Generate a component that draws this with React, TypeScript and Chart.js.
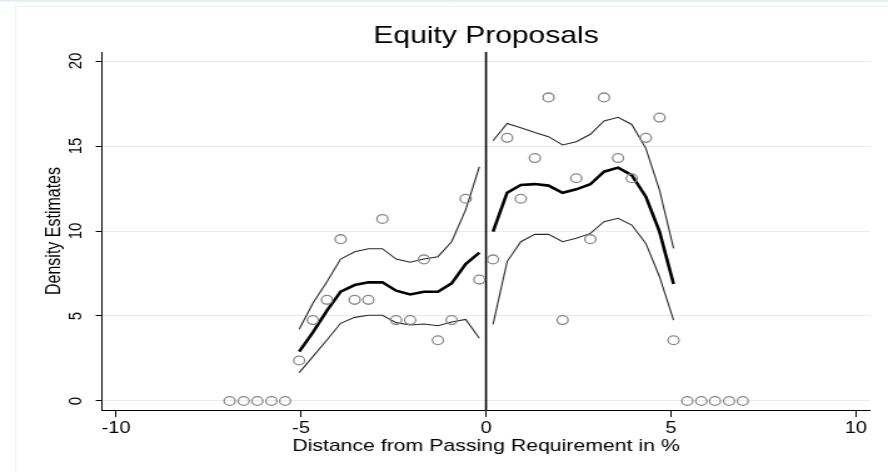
import { useEffect, useRef } from "react";
import { Chart, registerables } from "chart.js";

Chart.register(...registerables);

// ---- data ----
const chartTitle = "Equity Proposals";
const xAxisTitle = "Distance from Passing Requirement in %";
const yAxisTitle = "Density Estimates";

const xTicks = [-10, -5, 0, 5, 10];
const yTicks = [0, 5, 10, 15, 20];
const xRange = [-10.38, 10.38];
const yRange = [-0.53, 20.53];

// bin midpoints (distance from the passing requirement, %)
const leftBins = [
  -6.93, -6.55, -6.18, -5.8, -5.43, -5.05, -4.68, -4.3, -3.93, -3.55, -3.18, -2.8, -2.43, -2.05,
  -1.68, -1.3, -0.93, -0.55, -0.18,
];
const rightBins = [
  0.19, 0.57, 0.94, 1.32, 1.69, 2.07, 2.44, 2.82, 3.19, 3.57, 3.94, 4.32, 4.69, 5.07, 5.44, 5.82,
  6.19, 6.57, 6.94,
];

// density per bin
const leftDensity = [
  0, 0, 0, 0, 0, 2.38, 4.76, 5.95, 9.52, 5.95, 5.95, 10.71, 4.76, 4.76, 8.33, 3.57, 4.76, 11.9, 7.14,
];
const rightDensity = [
  8.33, 15.48, 11.9, 14.29, 17.86, 4.76, 13.1, 9.52, 17.86, 14.29, 13.1, 15.48, 16.67, 3.57, 0, 0, 0,
  0, 0,
];

// local fit with confidence band, evaluated on the non-empty bins
const leftFitX = leftBins.slice(5);
const rightFitX = rightBins.slice(0, 14);
const leftFit = [2.9, 4.04, 5.31, 6.43, 6.82, 6.98, 6.98, 6.49, 6.27, 6.43, 6.43, 6.92, 8.06, 8.73];
const leftUpper = [4.22, 5.75, 7.02, 8.35, 8.78, 8.96, 8.96, 8.35, 8.16, 8.35, 8.49, 9.37, 11.24, 13.78];
const leftLower = [1.67, 2.61, 3.59, 4.57, 4.92, 5.04, 5.04, 4.61, 4.47, 4.53, 4.43, 4.65, 4.8, 3.69];
const rightFit = [9.96, 12.25, 12.71, 12.76, 12.67, 12.25, 12.45, 12.75, 13.49, 13.73, 13.29, 12.02, 9.96, 6.88];
const rightUpper = [15.31, 16.33, 16.08, 15.8, 15.55, 15.06, 15.25, 15.69, 16.47, 16.69, 16.27, 14.86, 12.41, 8.98];
const rightLower = [4.51, 8.2, 9.37, 9.8, 9.8, 9.37, 9.57, 9.86, 10.55, 10.75, 10.35, 9.27, 7.31, 4.76];

// ---- drawing ----
const FONT = '"Liberation Sans", Arial, Helvetica, sans-serif';
const CANVAS_W = 710; // drawing width; shown stretched to the page width
const CANVAS_H = 472;
const SHOWN_W = 888;

const pairs = (xs: number[], ys: number[]) => xs.map((x, i) => ({ x, y: ys[i] }));

const lineSet = (xs: number[], ys: number[], width: number, color: string) => ({
  type: "line" as const,
  data: pairs(xs, ys),
  borderColor: color,
  borderWidth: width,
  pointRadius: 0,
  fill: false,
  tension: 0,
  order: 2,
});

const framePlugin = {
  id: "frame",
  beforeDraw(chart: Chart) {
    const { ctx, width, height } = chart;
    ctx.save();
    ctx.fillStyle = "#ffffff";
    ctx.fillRect(0, 0, width, height);
    ctx.fillStyle = "#e3eaf1";
    ctx.fillRect(0, 0, width, 1.5);
    ctx.strokeStyle = "#eef1f4";
    ctx.lineWidth = 1;
    ctx.beginPath();
    ctx.moveTo(12.5, height);
    ctx.lineTo(12.5, 6.5);
    ctx.lineTo(width, 6.5);
    ctx.stroke();
    ctx.restore();
  },
};

const titlePlugin = {
  id: "plotTitle",
  afterDraw(chart: Chart) {
    const { ctx, chartArea } = chart;
    ctx.save();
    ctx.font = `24px ${FONT}`;
    ctx.fillStyle = "#000";
    ctx.textAlign = "center";
    ctx.textBaseline = "alphabetic";
    ctx.fillText(chartTitle, (chartArea.left + chartArea.right) / 2, 43);
    ctx.restore();
  },
};

export default function App() {
  const ref = useRef<HTMLCanvasElement>(null);

  useEffect(() => {
    if (!ref.current) return;
    const chart = new Chart(ref.current, {
      type: "scatter",
      data: {
        datasets: [
          {
            type: "scatter",
            data: [...pairs(leftBins, leftDensity), ...pairs(rightBins, rightDensity)],
            pointStyle: "circle",
            pointRadius: 4.4,
            pointBorderWidth: 1.3,
            pointBorderColor: "#8a8a8a",
            pointBackgroundColor: "rgba(255,255,255,0)",
            order: 1,
          },
          lineSet(leftFitX, leftFit, 2.6, "#000"),
          lineSet(rightFitX, rightFit, 2.6, "#000"),
          lineSet(leftFitX, leftUpper, 1.1, "#2a2a2a"),
          lineSet(leftFitX, leftLower, 1.1, "#2a2a2a"),
          lineSet(rightFitX, rightUpper, 1.1, "#2a2a2a"),
          lineSet(rightFitX, rightLower, 1.1, "#2a2a2a"),
          lineSet([0, 0], [yRange[0], yRange[1]], 1.6, "#000"),
        ] as any,
      },
      options: {
        responsive: false,
        animation: false,
        devicePixelRatio: 1,
        layout: { padding: { top: 52, right: CANVAS_W - 870 * (CANVAS_W / SHOWN_W), bottom: 0, left: 0 } },
        plugins: {
          legend: { display: false },
          tooltip: { enabled: false },
          title: { display: false },
        },
        scales: {
          x: {
            type: "linear",
            min: xRange[0],
            max: xRange[1],
            afterBuildTicks: (s: any) => {
              s.ticks = xTicks.map((v) => ({ value: v }));
            },
            afterFit: (s: any) => {
              s.height = CANVAS_H - 410;
            },
            grid: {
              drawOnChartArea: false,
              tickLength: 7,
              tickColor: "#000",
              tickWidth: 1,
            },
            border: { display: true, color: "#000", width: 1 },
            ticks: {
              font: { family: FONT, size: 16 },
              color: "#000",
              padding: 1.5,
              maxRotation: 0,
              minRotation: 0,
            },
            title: {
              display: true,
              text: xAxisTitle,
              font: { family: FONT, size: 17 },
              color: "#000",
              padding: { top: 0, bottom: 15 },
            },
          },
          y: {
            type: "linear",
            min: yRange[0],
            max: yRange[1],
            afterBuildTicks: (s: any) => {
              s.ticks = yTicks.map((v) => ({ value: v }));
            },
            afterFit: (s: any) => {
              s.width = 102 * (CANVAS_W / SHOWN_W);
            },
            grid: {
              color: "#e6ecf2",
              lineWidth: 1,
              tickLength: 5,
              tickColor: "#000",
              tickWidth: 1,
            },
            border: { display: true, color: "#000", width: 1 },
            ticks: {
              font: { family: FONT, size: 15 },
              color: "#000",
              padding: 7,
              minRotation: 90,
              maxRotation: 90,
              crossAlign: "center",
            },
            title: {
              display: true,
              text: yAxisTitle,
              font: { family: FONT, size: 16 },
              color: "#000",
              padding: { top: 34, bottom: 0 },
            },
          },
        },
      },
      plugins: [framePlugin, titlePlugin],
    });
    return () => chart.destroy();
  }, []);

  return (
    <div
      style={{
        position: "fixed",
        left: 0,
        top: 0,
        width: SHOWN_W,
        height: CANVAS_H,
        background: "#fff",
      }}
    >
      <canvas
        ref={ref}
        width={CANVAS_W}
        height={CANVAS_H}
        style={{ width: `${SHOWN_W}px`, height: `${CANVAS_H}px`, display: "block" }}
      />
    </div>
  );
}
